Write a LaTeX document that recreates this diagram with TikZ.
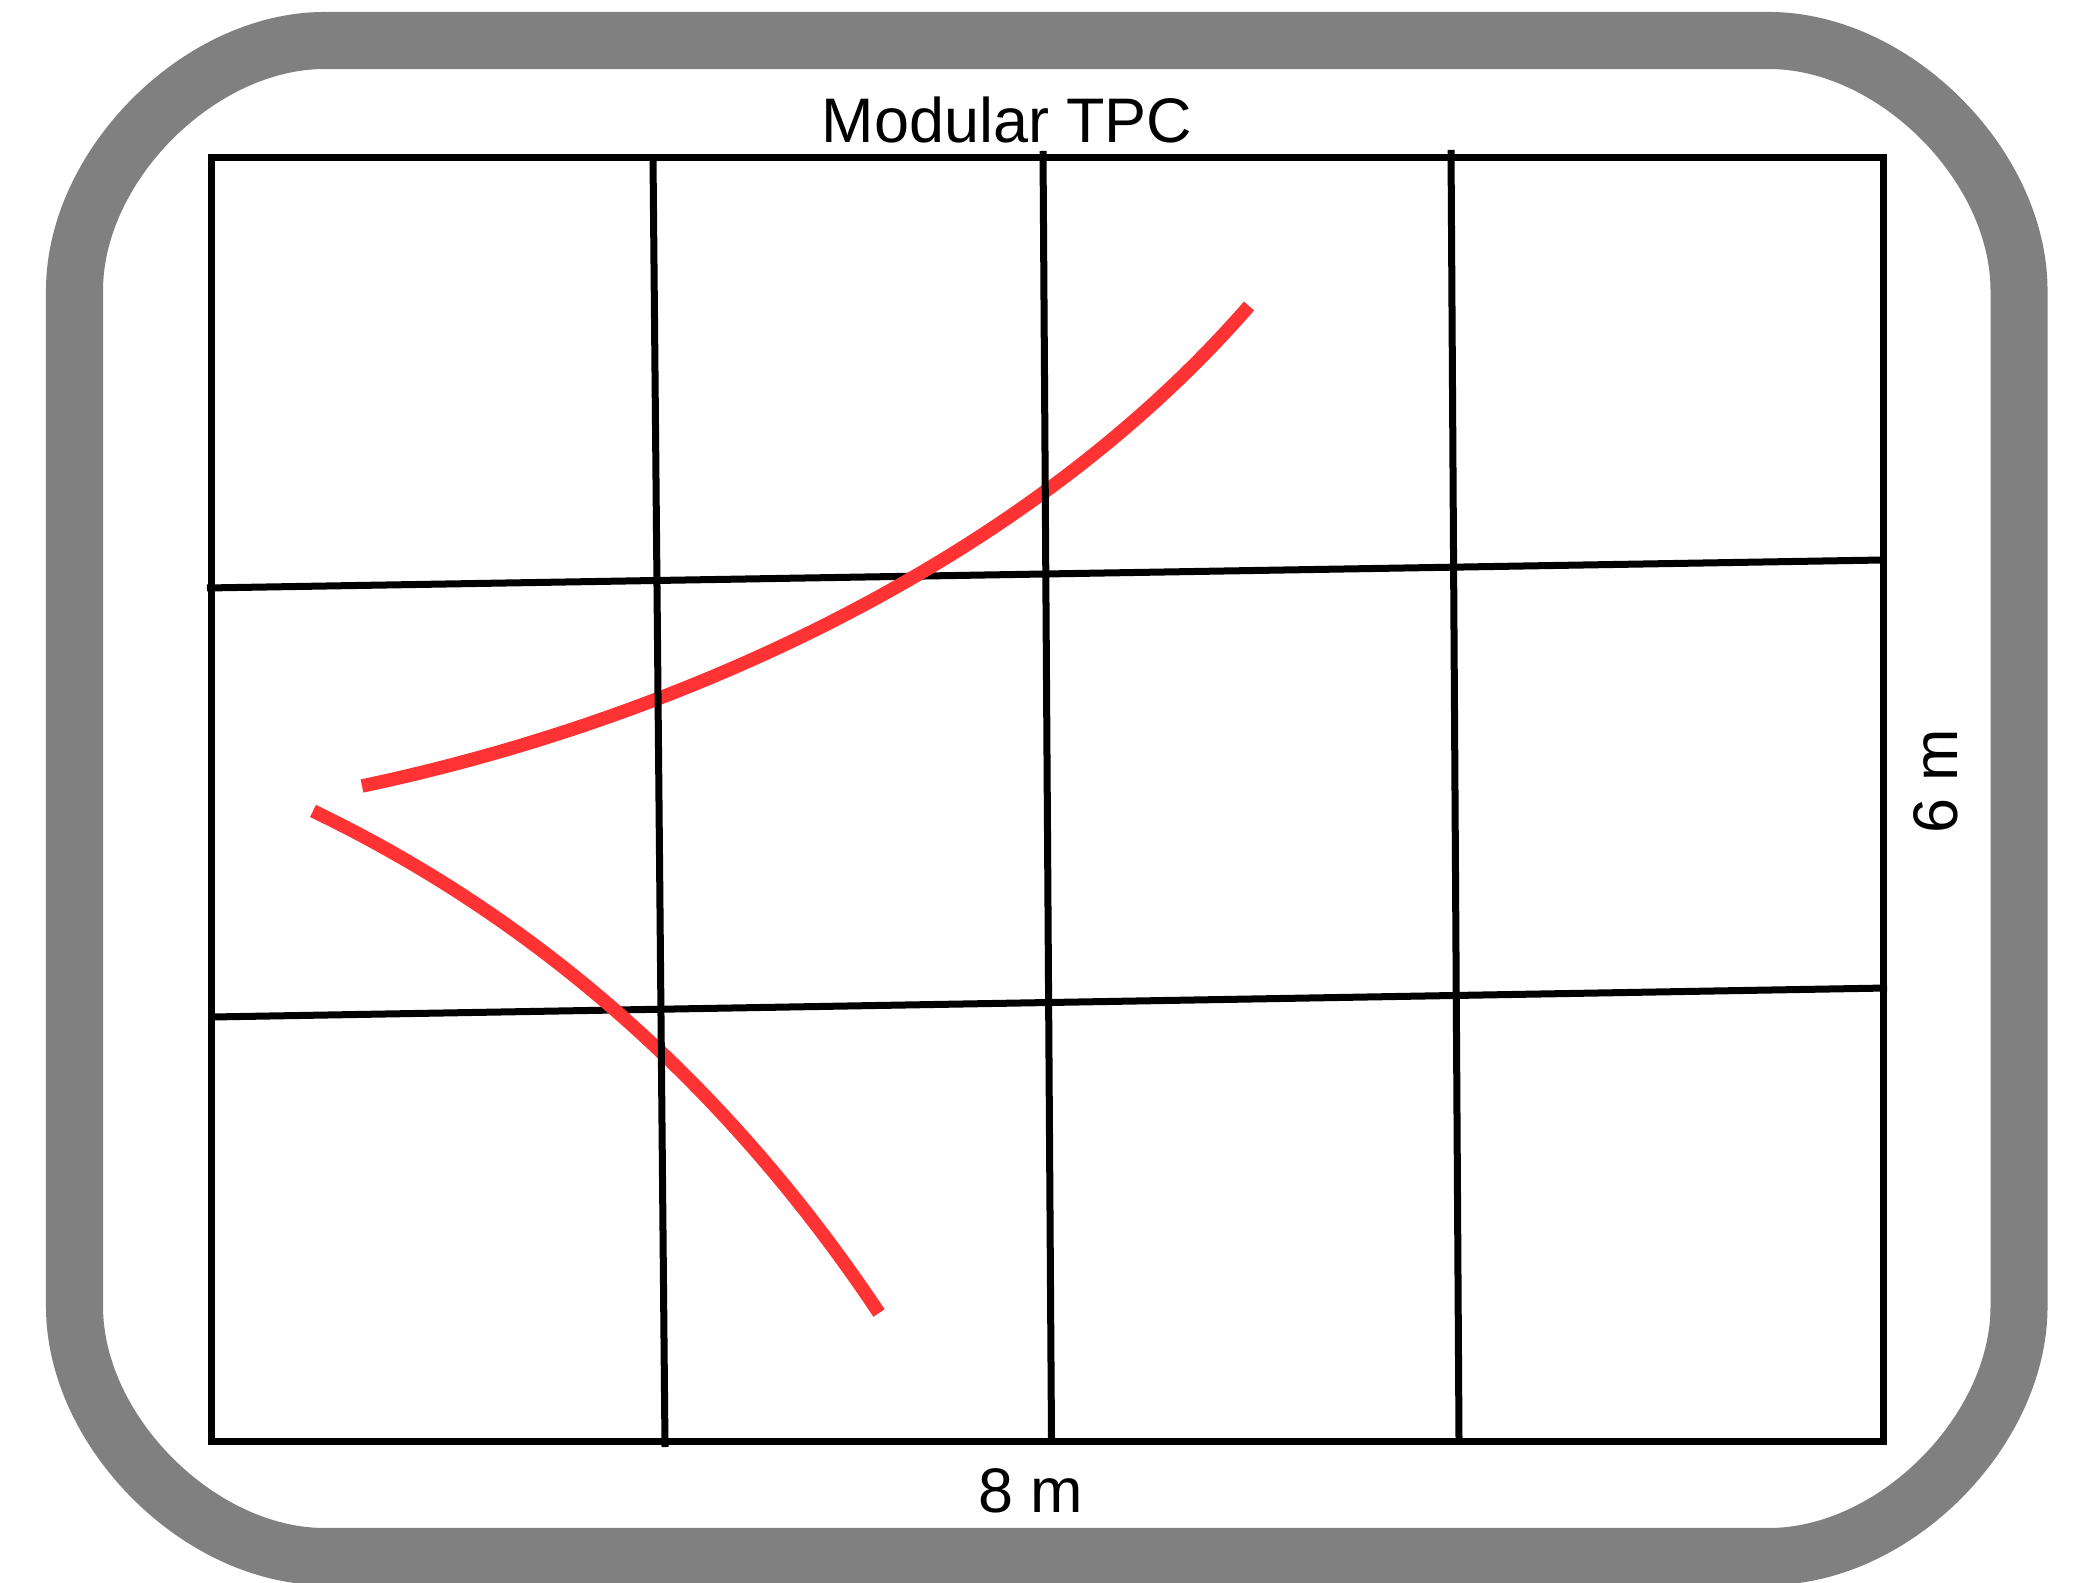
\documentclass[tikz,border=0pt]{standalone}
\usepackage{fontspec}
\setmainfont{Liberation Sans}
\definecolor{trackred}{RGB}{255,51,51}
\definecolor{framegray}{RGB}{128,128,128}
\begin{document}
\begin{tikzpicture}[x=0.01cm,y=-0.01cm,
  frame/.style={draw=framegray, line width=0.57cm},
  gridline/.style={draw=black, line width=0.07cm},
  track/.style={draw=trackred, line width=0.135cm},
  dimtext/.style={font=\fontsize{17.9pt}{20pt}\selectfont, inner sep=0pt, anchor=base}]
\clip (0,0) rectangle (2080,1583);
% outer rounded frame (centre line: L=74.5 R=2019 T=40.5 B=1556.5, corner 250)
\draw[frame] (324.5,40.5) -- (1769,40.5)
  .. controls (1894,40.5) and (2019,165.5) .. (2019,290.5)
  -- (2019,1306.5)
  .. controls (2019,1431.5) and (1894,1556.5) .. (1769,1556.5)
  -- (324.5,1556.5)
  .. controls (199.5,1556.5) and (74.5,1431.5) .. (74.5,1306.5)
  -- (74.5,290.5)
  .. controls (74.5,165.5) and (199.5,40.5) .. (324.5,40.5) -- cycle;
% detector outline
\draw[gridline] (211,158) rectangle (1883,1441);
% horizontal module boundaries
\draw[gridline] (207,588) -- (1883,560);
\draw[gridline] (212,1017) -- (1887,988);
% tracks
\draw[track] (362,786) .. controls (662,723) and (1019,570.5) .. (1249,306);
\draw[track] (313,811) .. controls (538,919) and (729,1088) .. (879,1313);
% vertical module boundaries
\draw[gridline] (653,158) -- (665,1447);
\draw[gridline] (1043,151) -- (1051.5,1441);
\draw[gridline] (1451,150) -- (1459,1441);
% labels
\node[dimtext] (title) at (1007,143) {Modular TPC};
\node[dimtext] (width) at (1031,1512) {8 m};
\node[dimtext, rotate=90] (height) at (1957,781) {6 m};
\end{tikzpicture}
\end{document}
